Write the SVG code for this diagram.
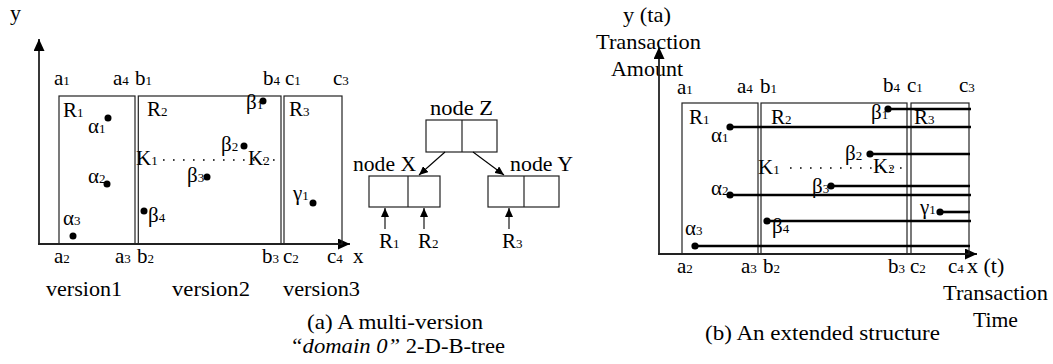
<svg xmlns="http://www.w3.org/2000/svg" width="1053" height="364" viewBox="0 0 1053 364">
<defs>
<style>
.t{font-family:"Liberation Serif","Times New Roman",serif;font-size:21px;fill:#000}
.s{font-size:13px}
.big{font-size:22px}
.box{fill:none;stroke:#222;stroke-width:1.2}
.ax{fill:none;stroke:#222;stroke-width:1.8}
.hl{fill:none;stroke:#000;stroke-width:2.6}
.dot{fill:#000}
.dots{fill:none;stroke:#000;stroke-width:1.6;stroke-dasharray:1.6 8.4}
.arr{fill:none;stroke:#000;stroke-width:1.1}
</style>
<marker id="axh" markerUnits="userSpaceOnUse" markerWidth="12" markerHeight="11" refX="12" refY="5.5" orient="auto">
<path d="M0,0 L12,5.5 L0,11 z" fill="#000"/>
</marker>
<marker id="sh" markerUnits="userSpaceOnUse" markerWidth="9" markerHeight="8" refX="9" refY="4" orient="auto">
<path d="M0,0 L9,4 L0,8 z" fill="#000"/>
</marker>
</defs>

<!-- ===== Panel (a) ===== -->
<g id="panelA">
<text class="t big" x="10" y="20">y</text>
<line class="ax" x1="39" y1="244" x2="39" y2="39" marker-end="url(#axh)"/>
<line class="ax" x1="38" y1="244" x2="350" y2="244" marker-end="url(#axh)"/>

<g id="a-R1"><rect class="box" x="59" y="96" width="76" height="148"/>
<text class="t" x="63" y="117">R<tspan class="s">1</tspan></text></g>
<g id="a-R2"><rect class="box" x="138.3" y="96" width="142.7" height="148"/>
<text class="t" x="147" y="116">R<tspan class="s">2</tspan></text></g>
<g id="a-R3"><rect class="box" x="284" y="96" width="58" height="148"/>
<text class="t" x="289" y="116">R<tspan class="s">3</tspan></text></g>

<text class="t" x="54" y="85">a<tspan class="s">1</tspan></text>
<text class="t" x="113" y="85">a<tspan class="s">4</tspan></text>
<text class="t" x="135" y="85">b<tspan class="s">1</tspan></text>
<text class="t" x="263" y="85">b<tspan class="s">4</tspan></text>
<text class="t" x="285" y="85">c<tspan class="s">1</tspan></text>
<text class="t" x="333" y="85">c<tspan class="s">3</tspan></text>

<text class="t" x="54" y="263">a<tspan class="s">2</tspan></text>
<text class="t" x="115" y="263">a<tspan class="s">3</tspan></text>
<text class="t" x="137" y="263">b<tspan class="s">2</tspan></text>
<text class="t" x="262" y="263">b<tspan class="s">3</tspan></text>
<text class="t" x="283" y="263">c<tspan class="s">2</tspan></text>
<text class="t" x="327" y="263">c<tspan class="s">4</tspan></text>
<text class="t" x="353" y="263">x</text>

<text class="t big" x="46" y="296" textLength="76" lengthAdjust="spacingAndGlyphs">version1</text>
<text class="t big" x="172" y="296" textLength="78" lengthAdjust="spacingAndGlyphs">version2</text>
<text class="t big" x="283" y="296" textLength="77" lengthAdjust="spacingAndGlyphs">version3</text>

<circle class="dot" cx="108" cy="118" r="3.5"/><text class="t" x="88" y="133">α<tspan class="s">1</tspan></text>
<circle class="dot" cx="107" cy="184" r="3.5"/><text class="t" x="88" y="183">α<tspan class="s">2</tspan></text>
<circle class="dot" cx="73" cy="236" r="3.5"/><text class="t" x="63" y="225">α<tspan class="s">3</tspan></text>
<circle class="dot" cx="263" cy="101" r="3.5"/><text class="t" x="246" y="109">β<tspan class="s">1</tspan></text>
<circle class="dot" cx="244" cy="146" r="3.5"/><text class="t" x="221" y="151">β<tspan class="s">2</tspan></text>
<circle class="dot" cx="207" cy="177" r="3.5"/><text class="t" x="187" y="182">β<tspan class="s">3</tspan></text>
<circle class="dot" cx="144" cy="211" r="3.5"/><text class="t" x="148" y="222">β<tspan class="s">4</tspan></text>
<circle class="dot" cx="313" cy="203" r="3.5"/><text class="t" x="293" y="200">γ<tspan class="s">1</tspan></text>

<text class="t" x="136" y="165">K<tspan class="s">1</tspan></text>
<line class="dots" x1="163" y1="160" x2="282" y2="160"/>
<text class="t" x="248" y="165">K<tspan class="s">2</tspan></text>

<text class="t big" x="307" y="329" textLength="176" lengthAdjust="spacingAndGlyphs">(a) A multi-version</text>
<text class="t big" x="290" y="353" textLength="215" lengthAdjust="spacingAndGlyphs"><tspan font-style="italic">“domain 0”</tspan> 2-D-B-tree</text>
</g>

<!-- ===== Tree ===== -->
<g id="nodeZ">
<text class="t big" x="430" y="115" textLength="63" lengthAdjust="spacingAndGlyphs">node Z</text>
<rect class="box" x="426" y="120" width="71" height="32"/>
<line class="box" x1="462" y1="120" x2="462" y2="152"/>
</g>
<g id="nodeX">
<text class="t big" x="353" y="171" textLength="63" lengthAdjust="spacingAndGlyphs">node X</text>
<rect class="box" x="369" y="176" width="71" height="31"/>
<line class="box" x1="408" y1="176" x2="408" y2="207"/>
</g>
<g id="nodeY">
<text class="t big" x="510" y="171" textLength="63" lengthAdjust="spacingAndGlyphs">node Y</text>
<rect class="box" x="488" y="176" width="71" height="31"/>
<line class="box" x1="524" y1="176" x2="524" y2="207"/>
</g>
<g id="refR1"><text class="t" x="379" y="248">R<tspan class="s">1</tspan></text></g>
<g id="refR2"><text class="t" x="418" y="248">R<tspan class="s">2</tspan></text></g>
<g id="refR3"><text class="t" x="502" y="248">R<tspan class="s">3</tspan></text></g>

<g id="connectors">
<line class="arr" x1="445" y1="152" x2="419" y2="175" marker-end="url(#sh)"/>
<line class="arr" x1="473" y1="152" x2="504" y2="175" marker-end="url(#sh)"/>
<line class="arr" x1="385" y1="229" x2="385" y2="208" marker-end="url(#sh)"/>
<line class="arr" x1="424" y1="229" x2="424" y2="208" marker-end="url(#sh)"/>
<line class="arr" x1="509" y1="229" x2="509" y2="208" marker-end="url(#sh)"/>
</g>

<!-- ===== Panel (b) ===== -->
<g id="panelB">
<text class="t big" x="623" y="22" textLength="48" lengthAdjust="spacingAndGlyphs">y (ta)</text>
<text class="t big" x="596" y="49" textLength="105" lengthAdjust="spacingAndGlyphs">Transaction</text>
<text class="t big" x="611" y="76" textLength="72" lengthAdjust="spacingAndGlyphs">Amount</text>
<line class="ax" x1="659" y1="254" x2="659" y2="47" marker-end="url(#axh)"/>
<line class="ax" x1="658" y1="254" x2="977" y2="254" marker-end="url(#axh)"/>

<g id="b-R1"><rect class="box" x="682" y="103" width="76" height="151"/>
<text class="t" x="689" y="124">R<tspan class="s">1</tspan></text></g>
<g id="b-R2"><rect class="box" x="761" y="103" width="146" height="151"/>
<text class="t" x="771" y="124">R<tspan class="s">2</tspan></text></g>
<g id="b-R3"><rect class="box" x="911" y="103" width="58" height="151"/>
<text class="t" x="914" y="124">R<tspan class="s">3</tspan></text></g>

<text class="t" x="677" y="94">a<tspan class="s">1</tspan></text>
<text class="t" x="737" y="93">a<tspan class="s">4</tspan></text>
<text class="t" x="760" y="93">b<tspan class="s">1</tspan></text>
<text class="t" x="883" y="92">b<tspan class="s">4</tspan></text>
<text class="t" x="907" y="92">c<tspan class="s">1</tspan></text>
<text class="t" x="959" y="92">c<tspan class="s">3</tspan></text>

<text class="t" x="677" y="273">a<tspan class="s">2</tspan></text>
<text class="t" x="741" y="273">a<tspan class="s">3</tspan></text>
<text class="t" x="763" y="273">b<tspan class="s">2</tspan></text>
<text class="t" x="888" y="273">b<tspan class="s">3</tspan></text>
<text class="t" x="910" y="273">c<tspan class="s">2</tspan></text>
<text class="t" x="948" y="273">c<tspan class="s">4</tspan></text>
<text class="t big" x="967" y="273">x (t)</text>
<text class="t big" x="943" y="300" textLength="105" lengthAdjust="spacingAndGlyphs">Transaction</text>
<text class="t big" x="973" y="327" textLength="45" lengthAdjust="spacingAndGlyphs">Time</text>

<line class="hl" x1="888" y1="109" x2="971" y2="109"/><circle class="dot" cx="888" cy="109" r="3.6"/>
<text class="t" x="871" y="119">β<tspan class="s">1</tspan></text>
<line class="hl" x1="730" y1="127" x2="971" y2="127"/><circle class="dot" cx="730" cy="127" r="3.6"/>
<text class="t" x="711" y="142">α<tspan class="s">1</tspan></text>
<line class="hl" x1="870" y1="154" x2="970" y2="154"/><circle class="dot" cx="870" cy="154" r="3.6"/>
<text class="t" x="845" y="160">β<tspan class="s">2</tspan></text>
<line class="hl" x1="831" y1="186" x2="970" y2="186"/><circle class="dot" cx="831" cy="186" r="3.6"/>
<text class="t" x="812" y="193">β<tspan class="s">3</tspan></text>
<line class="hl" x1="730" y1="195" x2="971" y2="195"/><circle class="dot" cx="730" cy="195" r="3.6"/>
<text class="t" x="711" y="195">α<tspan class="s">2</tspan></text>
<line class="hl" x1="940" y1="212" x2="970" y2="212"/><circle class="dot" cx="940" cy="212" r="3.6"/>
<text class="t" x="920" y="214">γ<tspan class="s">1</tspan></text>
<line class="hl" x1="767" y1="221" x2="971" y2="221"/><circle class="dot" cx="767" cy="221" r="3.6"/>
<text class="t" x="772" y="233">β<tspan class="s">4</tspan></text>
<line class="hl" x1="695" y1="246" x2="970" y2="246"/><circle class="dot" cx="695" cy="246" r="3.6"/>
<text class="t" x="685" y="235">α<tspan class="s">3</tspan></text>

<text class="t" x="758" y="174">K<tspan class="s">1</tspan></text>
<line class="dots" x1="790" y1="168" x2="906" y2="168"/>
<text class="t" x="873" y="173">K<tspan class="s">2</tspan></text>

<text class="t big" x="705" y="340" textLength="235" lengthAdjust="spacingAndGlyphs">(b) An extended structure</text>
</g>
</svg>
